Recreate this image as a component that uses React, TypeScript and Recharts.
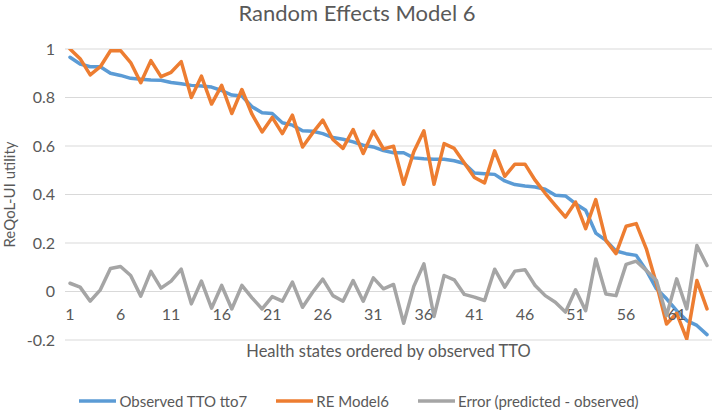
import React from 'react';
import { LineChart, Line, XAxis, YAxis, CartesianGrid, Legend } from 'recharts';

const states = Array.from({ length: 64 }, (_, i) => i + 1);

const observed = [
  0.966, 0.938, 0.927, 0.927, 0.9, 0.891, 0.879, 0.875, 0.872, 0.871,
  0.862, 0.857, 0.85, 0.847, 0.843, 0.829, 0.81, 0.806, 0.762, 0.737,
  0.734, 0.696, 0.686, 0.663, 0.661, 0.651, 0.635, 0.628, 0.617, 0.603,
  0.596, 0.581, 0.572, 0.572, 0.551, 0.547, 0.545, 0.545, 0.539, 0.528,
  0.489, 0.486, 0.483, 0.456, 0.441, 0.435, 0.431, 0.422, 0.397, 0.394,
  0.362, 0.335, 0.241, 0.211, 0.167, 0.156, 0.149, 0.087, 0.011, -0.03,
  -0.079, -0.12, -0.14, -0.178,
];

const predicted = [
  1.0, 0.96, 0.893, 0.927, 0.993, 0.993, 0.944, 0.861, 0.952, 0.886,
  0.904, 0.948, 0.8, 0.888, 0.773, 0.85, 0.734, 0.833, 0.731, 0.658,
  0.718, 0.651, 0.727, 0.596, 0.654, 0.707, 0.627, 0.59, 0.668, 0.569,
  0.661, 0.588, 0.599, 0.442, 0.576, 0.663, 0.442, 0.61, 0.59, 0.53,
  0.47, 0.448, 0.58, 0.475, 0.525, 0.525, 0.459, 0.405, 0.355, 0.307,
  0.369, 0.259, 0.379, 0.211, 0.156, 0.269, 0.28, 0.176, 0.032, -0.134,
  -0.09, -0.196, 0.045, -0.072,
];

const errors = [
  0.034, 0.018, -0.04, 0.007, 0.095, 0.103, 0.066, -0.019, 0.083, 0.014,
  0.043, 0.092, -0.051, 0.043, -0.069, 0.025, -0.072, 0.025, -0.026, -0.072,
  -0.021, -0.04, 0.039, -0.065, -0.003, 0.051, -0.017, -0.04, 0.045, -0.04,
  0.056, 0.011, 0.029, -0.131, 0.021, 0.114, -0.103, 0.066, 0.048, -0.012,
  -0.023, -0.037, 0.092, 0.018, 0.084, 0.09, 0.025, -0.017, -0.044, -0.085,
  0.007, -0.079, 0.134, -0.01, -0.017, 0.112, 0.125, 0.087, 0.045, -0.099,
  0.052, -0.072, 0.19, 0.107,
];

const yTicks = [-0.2, 0, 0.2, 0.4, 0.6, 0.8, 1];

const seriesInfo = [
  { key: 'observed', name: 'Observed TTO tto7', color: '#5B9BD5' },
  { key: 'predicted', name: 'RE Model6', color: '#ED7D31' },
  { key: 'error', name: 'Error (predicted - observed)', color: '#A5A5A5' },
];

const data = states.map((s, i) => ({
  state: s,
  observed: observed[i],
  predicted: predicted[i],
  error: errors[i],
}));

const font = 'Lato, "Open Sans", sans-serif';
const textColor = '#595959';

const XTick = (props: any) => {
  const { x, y, payload } = props;
  return (
    <text x={x} y={y - 27} textAnchor="middle" dominantBaseline="central" fill={textColor} fontSize={16} fontFamily={font}>
      {payload.value}
    </text>
  );
};

const renderLegend = () => (
  <div style={{ display: 'flex', justifyContent: 'center', alignItems: 'center', gap: 29, fontSize: 15, color: textColor, fontFamily: font, height: 22, paddingLeft: 6 }}>
    {seriesInfo.map((s) => (
      <div key={s.key} style={{ display: 'flex', alignItems: 'center' }}>
        <svg width={37} height={6}>
          <line x1={0} y1={3} x2={37} y2={3} stroke={s.color} strokeWidth={3.5} />
        </svg>
        <span style={{ marginLeft: 3 }}>{s.name}</span>
      </div>
    ))}
  </div>
);

export default function App() {
  return (
    <div style={{ position: 'absolute', left: 0, top: 0, width: 714, height: 412, background: '#fff', fontFamily: font }}>
      <div style={{ position: 'absolute', top: 0, left: 0, width: 714, textAlign: 'center', fontSize: 22, lineHeight: '26px', color: textColor }}>
        Random Effects Model 6
      </div>
      <LineChart width={714} height={412} data={data} margin={{ top: 49, right: 2, bottom: 0, left: 0 }}>
        <CartesianGrid vertical={false} stroke="#D9D9D9" strokeWidth={1} />
        <XAxis
          dataKey="state"
          interval={4}
          padding={{ left: 5, right: 5 }}
          axisLine={false}
          tickLine={false}
          tickSize={0}
          tickMargin={0}
          height={50}
          tick={<XTick />}
          label={{ value: 'Health states ordered by observed TTO', position: 'insideTop', offset: 5, fill: textColor, fontSize: 16.5, fontFamily: font }}
        />
        <YAxis
          domain={[-0.2, 1]}
          ticks={yTicks}
          allowDataOverflow
          width={65}
          axisLine={false}
          tickLine={false}
          tickSize={0}
          tickMargin={10}
          tick={{ fill: textColor, fontSize: 16, fontFamily: font }}
          tickFormatter={(v: number) => `${Math.round(v * 10) / 10}`}
          label={{ value: 'ReQoL-UI utility', angle: -90, position: 'center', dx: -23, fill: textColor, fontSize: 15, fontFamily: font }}
        />
        <Legend verticalAlign="bottom" height={22} content={renderLegend} />
        {seriesInfo.map((s) => (
          <Line
            key={s.key}
            dataKey={s.key}
            name={s.name}
            stroke={s.color}
            strokeWidth={3.5}
            dot={false}
            activeDot={false}
            strokeLinejoin="round"
            strokeLinecap="round"
            isAnimationActive={false}
          />
        ))}
      </LineChart>
    </div>
  );
}
